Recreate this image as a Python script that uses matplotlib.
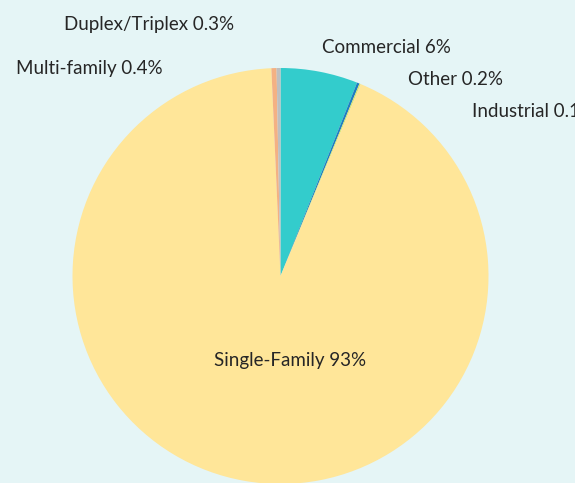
import matplotlib
matplotlib.use("Agg")
import matplotlib.pyplot as plt

categories = ["Commercial", "Other", "Industrial", "Single-Family", "Multi-family", "Duplex/Triplex"]
values = [6.0, 0.2, 0.1, 93.0, 0.4, 0.3]
label_text = ["Commercial 6%", "Other 0.2%", "Industrial 0.1%", "Single-Family 93%",
              "Multi-family 0.4%", "Duplex/Triplex 0.3%"]
colors = ["#33CCCC", "#1F7EC1", "#D9E36A", "#FFE699", "#F4B183", "#BFBFBF"]

W, H = 575, 483
fig = plt.figure(figsize=(W / 100, H / 100), dpi=100)
bg = "#E5F5F6"
fig.patch.set_facecolor(bg)
ax = fig.add_axes([0, 0, 1, 1])
ax.set_facecolor(bg)

cx, cy, r = 280.5, H - 276, 208
ax.pie(values, colors=colors, startangle=90, counterclock=False,
       center=(cx, cy), radius=r, frame=True,
       wedgeprops=dict(linewidth=0))
ax.set_xlim(0, W)
ax.set_ylim(0, H)
ax.set_aspect("equal")
ax.axis("off")

# label positions in pixel coords (left x, centre y from top)
pos = {
    "Commercial": (322, 46),
    "Other": (408, 78),
    "Industrial": (472, 110),
    "Single-Family": (214, 359),
    "Multi-family": (16, 67),
    "Duplex/Triplex": (64, 23),
}
for cat, txt in zip(categories, label_text):
    x, y = pos[cat]
    ax.text(x, H - y, txt, ha="left", va="center_baseline", fontsize=13.5,
            family="Lato", color="#262626", clip_on=False)

fig.savefig("out.png", dpi=100, facecolor=bg)
